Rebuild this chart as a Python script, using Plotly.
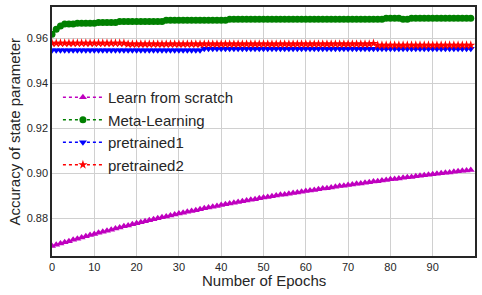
import plotly.graph_objects as go

epochs = list(range(100))

scratch = [
    0.8677, 0.8682, 0.8688, 0.8693, 0.8698, 0.8704, 0.8709, 0.8714, 0.8720, 0.8725,
    0.8730, 0.8735, 0.8740, 0.8744, 0.8749, 0.8754, 0.8759, 0.8764, 0.8768, 0.8773,
    0.8778, 0.8782, 0.8787, 0.8791, 0.8795, 0.8800, 0.8804, 0.8808, 0.8812, 0.8817,
    0.8821, 0.8825, 0.8829, 0.8832, 0.8836, 0.8840, 0.8844, 0.8848, 0.8851, 0.8855,
    0.8859, 0.8862, 0.8866, 0.8869, 0.8872, 0.8876, 0.8879, 0.8882, 0.8885, 0.8889,
    0.8892, 0.8895, 0.8898, 0.8901, 0.8904, 0.8906, 0.8909, 0.8912, 0.8915, 0.8918,
    0.8921, 0.8924, 0.8926, 0.8929, 0.8932, 0.8934, 0.8937, 0.8940, 0.8943, 0.8945,
    0.8948, 0.8950, 0.8953, 0.8955, 0.8958, 0.8960, 0.8963, 0.8965, 0.8968, 0.8970,
    0.8973, 0.8975, 0.8977, 0.8980, 0.8982, 0.8984, 0.8987, 0.8989, 0.8991, 0.8994,
    0.8996, 0.8998, 0.9000, 0.9002, 0.9004, 0.9007, 0.9009, 0.9011, 0.9013, 0.9015,
]

meta = [
    0.9619, 0.9641, 0.9656, 0.9664, 0.9664, 0.9664, 0.9668, 0.9668, 0.9668, 0.9668,
    0.9668, 0.9671, 0.9671, 0.9671, 0.9671, 0.9671, 0.9676, 0.9676, 0.9676, 0.9676,
    0.9676, 0.9676, 0.9676, 0.9676, 0.9676, 0.9676, 0.9676, 0.9681, 0.9681, 0.9681,
    0.9681, 0.9681, 0.9681, 0.9681, 0.9681, 0.9681, 0.9681, 0.9681, 0.9681, 0.9681,
    0.9681, 0.9681, 0.9685, 0.9685, 0.9685, 0.9685, 0.9685, 0.9685, 0.9685, 0.9685,
    0.9685, 0.9685, 0.9685, 0.9685, 0.9685, 0.9685, 0.9685, 0.9685, 0.9685, 0.9685,
    0.9685, 0.9685, 0.9685, 0.9685, 0.9685, 0.9685, 0.9685, 0.9685, 0.9685, 0.9685,
    0.9685, 0.9685, 0.9685, 0.9685, 0.9685, 0.9685, 0.9685, 0.9685, 0.9685, 0.9690,
    0.9690, 0.9690, 0.9690, 0.9685, 0.9685, 0.9690, 0.9690, 0.9690, 0.9690, 0.9690,
    0.9690, 0.9690, 0.9690, 0.9690, 0.9690, 0.9690, 0.9690, 0.9690, 0.9690, 0.9690,
]

pretrained1 = [
    0.9547, 0.9547, 0.9547, 0.9547, 0.9547, 0.9547, 0.9547, 0.9547, 0.9547, 0.9547,
    0.9547, 0.9547, 0.9547, 0.9547, 0.9547, 0.9547, 0.9547, 0.9547, 0.9547, 0.9547,
    0.9547, 0.9547, 0.9547, 0.9547, 0.9547, 0.9547, 0.9547, 0.9547, 0.9547, 0.9547,
    0.9547, 0.9547, 0.9547, 0.9547, 0.9547, 0.9547, 0.9554, 0.9554, 0.9554, 0.9554,
    0.9554, 0.9554, 0.9554, 0.9554, 0.9554, 0.9554, 0.9554, 0.9554, 0.9554, 0.9554,
    0.9554, 0.9554, 0.9554, 0.9554, 0.9554, 0.9554, 0.9554, 0.9554, 0.9554, 0.9554,
    0.9554, 0.9554, 0.9554, 0.9554, 0.9554, 0.9554, 0.9554, 0.9554, 0.9554, 0.9554,
    0.9554, 0.9554, 0.9554, 0.9554, 0.9554, 0.9554, 0.9554, 0.9554, 0.9554, 0.9554,
    0.9554, 0.9554, 0.9554, 0.9554, 0.9554, 0.9554, 0.9554, 0.9554, 0.9554, 0.9554,
    0.9554, 0.9554, 0.9554, 0.9554, 0.9554, 0.9554, 0.9554, 0.9554, 0.9554, 0.9554,
]

pretrained2 = [
    0.9579, 0.9579, 0.9579, 0.9579, 0.9579, 0.9579, 0.9579, 0.9579, 0.9579, 0.9579,
    0.9579, 0.9579, 0.9579, 0.9579, 0.9579, 0.9579, 0.9579, 0.9579, 0.9575, 0.9575,
    0.9575, 0.9575, 0.9575, 0.9575, 0.9575, 0.9575, 0.9575, 0.9575, 0.9575, 0.9575,
    0.9575, 0.9575, 0.9575, 0.9575, 0.9575, 0.9575, 0.9575, 0.9575, 0.9575, 0.9575,
    0.9575, 0.9575, 0.9575, 0.9575, 0.9575, 0.9575, 0.9575, 0.9575, 0.9575, 0.9575,
    0.9575, 0.9575, 0.9575, 0.9575, 0.9575, 0.9575, 0.9575, 0.9575, 0.9575, 0.9575,
    0.9575, 0.9575, 0.9575, 0.9575, 0.9575, 0.9575, 0.9575, 0.9575, 0.9575, 0.9575,
    0.9575, 0.9575, 0.9575, 0.9575, 0.9575, 0.9575, 0.9578, 0.9570, 0.9570, 0.9570,
    0.9570, 0.9570, 0.9570, 0.9570, 0.9570, 0.9570, 0.9570, 0.9570, 0.9570, 0.9570,
    0.9570, 0.9570, 0.9570, 0.9570, 0.9570, 0.9570, 0.9570, 0.9570, 0.9570, 0.9570,
]

series_names = ["Learn from scratch", "Meta-Learning", "pretrained1", "pretrained2"]
series_values = [scratch, meta, pretrained1, pretrained2]
series_colors = ["#bf00bf", "#008000", "#0000ff", "#ff0000"]
series_symbols = ["triangle-up", "circle", "triangle-down", "star"]

x_ticks = [0, 10, 20, 30, 40, 50, 60, 70, 80, 90]
y_ticks = [0.88, 0.90, 0.92, 0.94, 0.96]
y_tick_labels = ["0.88", "0.90", "0.92", "0.94", "0.96"]

FONT = "Liberation Sans, Arial, sans-serif"
TXT = "#262626"

fig = go.Figure()
for name, vals, col, sym in zip(series_names, series_values, series_colors, series_symbols):
    fig.add_trace(go.Scatter(
        x=epochs, y=vals, name=name, mode="lines+markers",
        line=dict(color=col, width=1.5, dash="dot"),
        marker=dict(color=col, symbol=sym, size=7, line=dict(width=0)),
    ))

fig.update_layout(
    width=482, height=295,
    margin=dict(l=52, r=7, t=7, b=39),
    paper_bgcolor="white", plot_bgcolor="white",
    font=dict(family=FONT, color=TXT, size=11),
    showlegend=True,
    legend=dict(
        x=0.014, y=0.703, xanchor="left", yanchor="top",
        bgcolor="rgba(0,0,0,0)", borderwidth=0,
        font=dict(size=15, family=FONT, color=TXT),
        itemwidth=40,
    ),
    xaxis=dict(
        range=[0, 100], tickvals=x_ticks, ticks="",
        showgrid=True, gridcolor="#d0d0d0", gridwidth=1,
        showline=True, linecolor="#262626", linewidth=1.5, mirror=True,
        zeroline=False, tickfont=dict(size=11, color=TXT), automargin=False,
    ),
    yaxis=dict(
        range=[0.8632, 0.9740], tickvals=y_ticks, ticktext=y_tick_labels, ticks="",
        showgrid=True, gridcolor="#d0d0d0", gridwidth=1,
        showline=True, linecolor="#262626", linewidth=1.5, mirror=True,
        zeroline=False, tickfont=dict(size=11, color=TXT), automargin=False,
    ),
    annotations=[
        dict(text="Number of Epochs", xref="paper", yref="paper", x=0.5, y=-0.0964,
             xanchor="center", yanchor="middle", showarrow=False,
             font=dict(size=15, family=FONT, color=TXT)),
        dict(text="Accuracy of state parameter", xref="paper", yref="paper", x=-0.0898, y=0.5,
             xanchor="center", yanchor="middle", showarrow=False, textangle=-90,
             font=dict(size=15, family=FONT, color=TXT)),
    ],
)

fig.write_html(
    "out.html",
    config={"displayModeBar": False},
    post_script="document.body.style.margin='0';document.body.style.overflow='hidden';",
)
